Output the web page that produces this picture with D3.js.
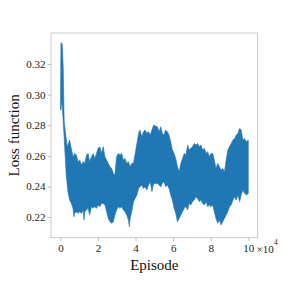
<!DOCTYPE html>
<html><head><meta charset="utf-8">
<script src="https://cdn.jsdelivr.net/npm/d3@7"></script>
<style>body{margin:0;background:#fff}svg{display:block}text{font-family:"Liberation Serif","DejaVu Serif",serif}</style>
</head><body><svg id="c" width="284" height="284"></svg>
<script>
// Episode positions in units of 1e4; upper and lower envelope of the noisy loss curve
const upperX = [
  0, 0.03, 0.1, 0.15, 0.2, 0.3, 0.366, 0.49, 0.58, 0.67,
  0.76, 0.85, 0.94, 1.03, 1.12, 1.21, 1.30, 1.39, 1.47, 1.56,
  1.65, 1.74, 1.83, 1.92, 2.01, 2.10, 2.19, 2.28, 2.37, 2.46,
  2.55, 2.64, 2.73, 2.82, 2.90, 2.99, 3.08, 3.17, 3.26, 3.35,
  3.44, 3.53, 3.62, 3.71, 3.80, 3.89, 3.98, 4.07, 4.16, 4.24,
  4.33, 4.42, 4.51, 4.60, 4.69, 4.78, 4.87, 4.96, 5.05, 5.16,
  5.25, 5.34, 5.42, 5.51, 5.60, 5.69, 5.78, 5.87, 5.96, 6.05,
  6.14, 6.23, 6.32, 6.41, 6.50, 6.59, 6.68, 6.77, 6.85, 6.94,
  7.03, 7.12, 7.21, 7.30, 7.39, 7.48, 7.57, 7.66, 7.75, 7.84,
  7.93, 8.02, 8.11, 8.19, 8.28, 8.37, 8.46, 8.55, 8.64, 8.73,
  8.82, 8.91, 9.00, 9.09, 9.18, 9.27, 9.36, 9.45, 9.54, 9.62,
  9.71, 9.80, 9.89, 10.0];
const upperY = [
  0.292, 0.334, 0.333, 0.318, 0.283, 0.272, 0.266, 0.2703, 0.2649, 0.2594,
  0.2616, 0.2605, 0.2562, 0.2573, 0.2540, 0.2562, 0.2551, 0.2605, 0.2616, 0.2562,
  0.2594, 0.2616, 0.2583, 0.2616, 0.2649, 0.2660, 0.2616, 0.2660, 0.2594, 0.2573,
  0.2551, 0.2529, 0.2518, 0.2485, 0.2475, 0.2594, 0.2616, 0.2605, 0.2616, 0.2573,
  0.2583, 0.2551, 0.2562, 0.2529, 0.2551, 0.2551, 0.2616, 0.2681, 0.2747, 0.2769,
  0.2725, 0.2758, 0.2769, 0.2747, 0.2758, 0.2736, 0.2769, 0.2801, 0.2795, 0.2790,
  0.2758, 0.2790, 0.2747, 0.2736, 0.2769, 0.2758, 0.2736, 0.2692, 0.2638, 0.2616,
  0.2583, 0.2529, 0.2496, 0.2551, 0.2583, 0.2616, 0.2605, 0.2671, 0.2638, 0.2649,
  0.2660, 0.2681, 0.2671, 0.2681, 0.2660, 0.2671, 0.2638, 0.2649, 0.2616, 0.2627,
  0.2594, 0.2616, 0.2616, 0.2573, 0.2518, 0.2551, 0.2529, 0.2507, 0.2518, 0.2496,
  0.2573, 0.2638, 0.2660, 0.2681, 0.2703, 0.2714, 0.2736, 0.2747, 0.2780, 0.2769,
  0.2703, 0.2714, 0.2692, 0.2703];
const lowerX = [
  0, 0.03, 0.08, 0.2, 0.31, 0.40, 0.49, 0.58, 0.67, 0.72,
  0.76, 0.85, 0.94, 1.03, 1.12, 1.21, 1.26, 1.30, 1.39, 1.47,
  1.56, 1.65, 1.74, 1.83, 1.92, 2.01, 2.10, 2.19, 2.28, 2.37,
  2.46, 2.55, 2.64, 2.73, 2.82, 2.90, 2.99, 3.08, 3.17, 3.26,
  3.35, 3.44, 3.53, 3.62, 3.67, 3.71, 3.80, 3.89, 3.98, 4.07,
  4.16, 4.24, 4.33, 4.42, 4.51, 4.60, 4.69, 4.78, 4.87, 4.96,
  5.05, 5.16, 5.25, 5.34, 5.42, 5.51, 5.60, 5.69, 5.78, 5.87,
  5.96, 6.05, 6.14, 6.23, 6.32, 6.41, 6.50, 6.59, 6.68, 6.77,
  6.85, 6.94, 7.03, 7.12, 7.21, 7.30, 7.39, 7.48, 7.57, 7.66,
  7.75, 7.84, 7.93, 8.02, 8.11, 8.19, 8.28, 8.37, 8.46, 8.55,
  8.64, 8.73, 8.82, 8.91, 9.00, 9.09, 9.18, 9.27, 9.36, 9.45,
  9.54, 9.62, 9.71, 9.80, 9.89, 10.0];
const lowerY = [
  0.290, 0.290, 0.2965, 0.272, 0.2474, 0.2366, 0.2311, 0.2289, 0.2257, 0.2202,
  0.2224, 0.2235, 0.2224, 0.2235, 0.2224, 0.2246, 0.2180, 0.2235, 0.2246, 0.2257,
  0.2213, 0.2268, 0.2257, 0.2268, 0.2257, 0.2278, 0.2268, 0.2289, 0.2289, 0.2278,
  0.2235, 0.2191, 0.2169, 0.2159, 0.2169, 0.2213, 0.2246, 0.2268, 0.2257, 0.2268,
  0.2246, 0.2235, 0.2213, 0.2180, 0.2137, 0.2191, 0.2235, 0.2300, 0.2322, 0.2344,
  0.2387, 0.2398, 0.2409, 0.2387, 0.2398, 0.2376, 0.2409, 0.2431, 0.2366, 0.2420,
  0.2420, 0.2420, 0.2409, 0.2398, 0.2420, 0.2431, 0.2398, 0.2409, 0.2387, 0.2344,
  0.2311, 0.2257, 0.2224, 0.2169, 0.2191, 0.2213, 0.2235, 0.2257, 0.2268, 0.2246,
  0.2289, 0.2278, 0.2300, 0.2311, 0.2333, 0.2322, 0.2300, 0.2311, 0.2289, 0.2278,
  0.2300, 0.2268, 0.2278, 0.2268, 0.2278, 0.2235, 0.2191, 0.2159, 0.2180, 0.2148,
  0.2169, 0.2191, 0.2213, 0.2235, 0.2268, 0.2278, 0.2311, 0.2333, 0.2311, 0.2344,
  0.2300, 0.2344, 0.2376, 0.2355, 0.2344, 0.2355];
const xTicks = [0,2,4,6,8,10];
const yTicks = [0.22,0.24,0.26,0.28,0.30,0.32];

const svg = d3.select("#c");
const L=51, R=257.7, T=33, B=237.7;
const x = d3.scaleLinear().domain([-0.5,10.5]).range([L,R]);
const y = d3.scaleLinear().domain([0.2065,0.3403]).range([B,T]);

const up = upperX.map((v,i)=>[v,upperY[i]]);
const lo = lowerX.map((v,i)=>[v,lowerY[i]]);
const pts = up.concat(lo.reverse());
svg.append("path").datum(pts)
  .attr("d", d3.line().x(d=>x(d[0])).y(d=>y(d[1])).curve(d3.curveLinearClosed))
  .attr("fill","#1f77b4").attr("stroke","#1f77b4").attr("stroke-width",0.6).attr("stroke-linejoin","miter");

const gx = svg.append("g").attr("transform",`translate(0,${B})`)
  .call(d3.axisBottom(x).tickValues(xTicks).tickSize(3.5).tickPadding(3).tickFormat(d3.format("d")));
const gy = svg.append("g").attr("transform",`translate(${L},0)`)
  .call(d3.axisLeft(y).tickValues(yTicks).tickSize(3.5).tickPadding(2).tickFormat(d3.format(".2f")));
[gx,gy].forEach(g=>{
  g.select(".domain").remove();
  g.selectAll("line").attr("stroke","#b0b0b0").attr("stroke-width",0.8);
  g.selectAll("text").attr("font-family","Liberation Serif").attr("font-size",11).attr("fill","#222");
});
svg.append("rect").attr("x",L).attr("y",T).attr("width",R-L).attr("height",B-T)
  .attr("fill","none").attr("stroke","#bdbdbd").attr("stroke-width",0.8);

svg.append("text").attr("x",256.5).attr("y",252.5).attr("font-size",11).attr("fill","#222").text("×10");
svg.append("text").attr("x",274).attr("y",245).attr("font-size",7.5).attr("fill","#222").text("4");

svg.append("text").attr("x",(L+R)/2).attr("y",270).attr("text-anchor","middle").attr("font-size",15).attr("fill","#111").text("Episode");
svg.append("text").attr("transform",`translate(18.5,${(T+B)/2}) rotate(-90)`).attr("text-anchor","middle").attr("font-size",15).attr("fill","#111").text("Loss function");
</script></body></html>
